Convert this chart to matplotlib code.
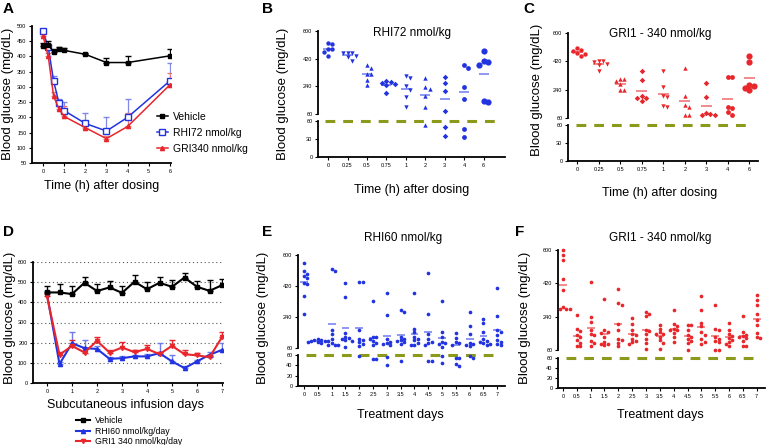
import numpy as np
import matplotlib
matplotlib.use("Agg")
import matplotlib.pyplot as plt
from matplotlib.lines import Line2D

plt.rcParams['font.family'] = ['Liberation Sans', 'DejaVu Sans']

W, H = 766, 445
BLUE = "#2233e0"
BLUE_MEAN = "#6f7cf0"
RED = "#e8262b"
RED_MEAN = "#ee6a6e"
OLIVE = "#8c9a1c"

# ── Panel A: time course after single dose ───────────────────────────────────
a_time = [0, 0.25, 0.5, 0.75, 1, 2, 3, 4, 6]
a_veh = [433, 438, 415, 425, 420, 407, 380, 380, 402]
a_veh_err = [12, 12, 8, 6, 8, 5, 15, 22, 22]
a_rhi = [482, 430, 320, 248, 222, 180, 155, 200, 320]
a_rhi_err = [8, 10, 15, 12, 30, 35, 45, 60, 60]
a_gri = [468, 400, 270, 228, 203, 166, 130, 170, 307]
a_gri_err = [10, 10, 12, 12, 35, 10, 8, 45, 40]

# ── Panels B / C: individual animals, single dose ────────────────────────────
bc_labels = ["0", "0.25", "0.5", "0.75", "1", "2", "3", "4", "6"]
b_vals = [
    [522, 518, 485, 480, 465, 436],
    [460, 460, 458, 440, 430, 405],
    [380, 360, 322, 318, 280, 246],
    [275, 270, 262, 255, 248, 198],
    [306, 293, 240, 215, 172, 107],
    [295, 233, 220, 180, 107, 54],
    [302, 259, 209, 79, 50, 35],
    [380, 358, 233, 155, 47, 34],
    [468, 405, 400, 382, 142, 140],
]
c_vals = [
    [505, 490, 483, 473, 466, 451],
    [424, 424, 413, 400, 398, 356],
    [307, 305, 292, 275, 240, 238],
    [356, 303, 200, 190, 185, 170],
    [356, 256, 200, 196, 137, 130],
    [377, 200, 143, 130, 79, 79],
    [281, 196, 90, 85, 80, 78],
    [320, 318, 132, 122, 100, 79],
    [451, 415, 271, 264, 249, 239],
]
bc_markers = ['o', 'v', '^', 'D', 'v', '^', 'D', 'o', 'o']

# ── Panel D: infusion, group means ───────────────────────────────────────────
d_days = [0, 0.5, 1, 1.5, 2, 2.5, 3, 3.5, 4, 4.5, 5, 5.5, 6, 6.5, 7]
d_veh = [449, 449, 441, 497, 456, 474, 447, 502, 465, 497, 477, 523, 477, 457, 485]
d_veh_err = [31, 44, 41, 29, 37, 33, 35, 33, 37, 29, 33, 23, 31, 53, 31]
d_rhi = [440, 94, 197, 173, 169, 120, 123, 132, 132, 148, 107, 74, 107, 140, 164]
d_rhi_err = [15, 8, 58, 42, 15, 10, 10, 8, 10, 52, 33, 8, 8, 16, 36]
d_gri = [430, 140, 184, 151, 209, 151, 176, 153, 169, 143, 184, 143, 137, 128, 227]
d_gri_err = [15, 16, 30, 22, 21, 13, 25, 11, 17, 13, 30, 21, 11, 8, 28]

# ── Panels E / F: infusion, individual animals ───────────────────────────────
ef_days = d_days
ef_labels = ["0", "0.5", "1", "1.5", "2", "2.5", "3", "3.5", "4", "4.5",
             "5", "5.5", "6", "6.5", "7"]
e_vals = [
    [551, 509, 491, 477, 468, 435, 431, 361, 256],
    [112, 108, 105, 102, 100, 98, 96, 92, 88],
    [516, 508, 167, 143, 114, 90, 80, 79, 78],
    [439, 357, 150, 124, 118, 114, 105, 100, 66],
    [444, 444, 163, 114, 105, 95, 85, 70, 58],
    [334, 124, 124, 115, 99, 90, 79, 53, 53],
    [377, 254, 110, 95, 88, 85, 76, 57, 40],
    [283, 270, 124, 115, 105, 100, 95, 85, 49],
    [380, 173, 153, 124, 110, 105, 90, 79, 76],
    [493, 256, 143, 110, 95, 91, 80, 49, 48],
    [334, 153, 124, 95, 90, 85, 66, 58, 44],
    [149, 118, 95, 90, 80, 55, 54, 42, 38],
    [270, 186, 143, 89, 85, 79, 70, 59, 55],
    [227, 206, 153, 110, 99, 95, 89, 85, 80],
    [411, 246, 163, 153, 134, 105, 95, 85, 76],
]
f_vals = [
    [600, 573, 546, 446, 383, 290, 284, 282, 280],
    [248, 176, 161, 140, 130, 112, 100, 80, 80],
    [425, 239, 212, 166, 148, 140, 107, 98, 82],
    [334, 166, 157, 154, 130, 103, 94, 90, 85],
    [392, 315, 305, 200, 170, 121, 112, 100, 80],
    [235, 203, 166, 148, 140, 121, 110, 103, 94],
    [266, 257, 244, 170, 160, 148, 120, 98, 65],
    [194, 176, 157, 148, 145, 130, 112, 100, 67],
    [278, 203, 188, 176, 170, 166, 150, 130, 103],
    [197, 197, 166, 140, 130, 121, 110, 98, 62],
    [351, 278, 208, 188, 157, 140, 120, 103, 94],
    [305, 176, 166, 130, 121, 110, 103, 62, 62],
    [208, 166, 148, 135, 125, 112, 103, 95, 82],
    [244, 157, 143, 136, 130, 125, 110, 82, 82],
    [356, 329, 305, 257, 221, 194, 150, 130, 125],
]

fig = plt.figure(figsize=(W / 100, H / 100), dpi=100)


def px_axes(l, t, r, b):
    return fig.add_axes([l / W, 1 - b / H, (r - l) / W, (b - t) / H])


def ftext(x, y, s, **kw):
    fig.text(x / W, 1 - y / H, s, **kw)


def style(ax, left=True, bottom=True):
    for s in ["top", "right"]:
        ax.spines[s].set_visible(False)
    ax.spines["left"].set_visible(left)
    ax.spines["bottom"].set_visible(bottom)
    ax.spines["left"].set_linewidth(1.3)
    ax.spines["bottom"].set_linewidth(1.3)
    ax.tick_params(labelsize=4, length=2.5, width=0.8, pad=1.5)


def swarm(ypx, sx, diam):
    # simple beeswarm: place points by value, step sideways on overlap
    order = np.argsort(ypx)[::-1]
    placed, xs = [], np.zeros(len(ypx))
    step = diam / sx
    for i in order:
        for k in range(30):
            off = ((k + 1) // 2) * step * (1 if k % 2 else -1)
            if all(np.hypot((off - ox) * sx, ypx[i] - oy) >= diam * 0.95
                   for ox, oy in placed):
                break
        xs[i] = off
        placed.append((off, ypx[i]))
    return xs


def broken_panel(box_up, box_lo, xlim, xpos, xlabels, groups, color,
                 mcolor, markers, sizes, lo_ticks, half, diam):
    l, t, r, b = box_up
    _, t2, _, b2 = box_lo
    ax_up = px_axes(l, t, r, b)
    ax_lo = px_axes(l, t2, r, b2)
    up_scale = (b - t) / 540
    lo_scale = (b2 - t2) / 60
    sx = (r - l) / (xlim[1] - xlim[0])
    for x, vals, mk, sz in zip(xpos, groups, markers, sizes):
        v = np.array(vals, float)
        ypx = np.where(v >= 60, (b2 - t2) + 8 + (v - 60) * up_scale, v * lo_scale)
        offs = swarm(ypx, sx, diam)
        hi = v >= 60
        ax_up.scatter(x + offs[hi], v[hi], s=sz, marker=mk, color=color,
                      linewidths=0, clip_on=False, zorder=3)
        ax_lo.scatter(x + offs[~hi], v[~hi], s=sz, marker=mk, color=color,
                      linewidths=0, clip_on=False, zorder=3)
        m = v.mean()
        target = ax_up if m >= 60 else ax_lo
        target.hlines(m, x - half, x + half, color=mcolor, lw=1.1, zorder=2)
    for ax in (ax_up, ax_lo):
        ax.set_xlim(*xlim)
    ax_up.set_ylim(60, 600)
    ax_lo.set_ylim(0, 60)
    ax_up.set_yticks([60, 240, 420, 600])
    ax_lo.set_yticks(lo_ticks)
    ax_up.set_xticks([])
    ax_lo.set_xticks(xpos)
    ax_lo.set_xticklabels(xlabels)
    style(ax_up, bottom=False)
    style(ax_lo)
    ax_lo.axhline(60, color=OLIVE, lw=2.2, ls=(0, (3.2, 2.6)), clip_on=False,
                  xmin=0.04, xmax=0.96, zorder=1)
    return ax_up, ax_lo


# ── A ────────────────────────────────────────────────────────────────────────
ax = px_axes(32, 26, 171, 163)
z = np.zeros(len(a_time))
ax.errorbar(a_time, a_veh, yerr=[z, a_veh_err], color="black", marker="s",
            ms=3.2, lw=1.1, elinewidth=0.9, capsize=2, zorder=3)
ax.errorbar(a_time, a_rhi, yerr=[z, a_rhi_err], color=BLUE, marker="s",
            mfc="white", mec=BLUE, ms=4, mew=1, lw=1.1, elinewidth=0.9,
            capsize=2, ecolor="#7f88ea", zorder=2)
ax.errorbar(a_time, a_gri, yerr=[z, a_gri_err], color=RED, marker="^",
            ms=3, lw=1.1, elinewidth=0.9, capsize=2, ecolor="#e87a7d",
            zorder=2)
ax.set_xlim(-0.52, 6.05)
ax.set_ylim(50, 500)
ax.set_xticks(range(7))
ax.set_yticks(range(50, 501, 50))
style(ax)
a_handles = [
    Line2D([], [], color="black", marker="s", ms=3.2, lw=1.1),
    Line2D([], [], color=BLUE, marker="s", mfc="white", mec=BLUE, ms=4, mew=1, lw=1.1),
    Line2D([], [], color=RED, marker="^", ms=3, lw=1.1),
]
ax.legend(a_handles, ["Vehicle", "RHI72 nmol/kg", "GRI340 nmol/kg"],
          loc="center left", bbox_to_anchor=(0.9, 0.22), frameon=False,
          fontsize=7.5, handlelength=1.0, handletextpad=0.5, labelspacing=0.55,
          borderpad=0, borderaxespad=0)
ax.set_xlabel("Time (h) after dosing", fontsize=9, labelpad=5)
ftext(8, 94, "Blood glucose (mg/dL)", rotation=90, fontsize=9.5,
      ha="center", va="center")

# ── B / C ────────────────────────────────────────────────────────────────────
bc_x = np.arange(len(bc_labels))
bc_sizes = [10, 10, 10, 8, 10, 10, 8, 12, 20]
up, lo = broken_panel((318, 31, 505, 114), (318, 121, 505, 157), (-0.52, 9.1),
                      bc_x, bc_labels, b_vals, BLUE, BLUE_MEAN, bc_markers,
                      bc_sizes, [0, 30, 60], 0.26, 4.2)
ftext(412, 33, "RHI72 nmol/kg", fontsize=8.5, ha="center", va="center")
ftext(412, 190, "Time (h) after dosing", fontsize=9, ha="center", va="center")
ftext(283, 94, "Blood glucose (mg/dL)", rotation=90, fontsize=9.5,
      ha="center", va="center")

up, lo = broken_panel((568, 33, 758, 118), (568, 125, 758, 161), (-0.42, 8.4),
                      bc_x, bc_labels, c_vals, RED, RED_MEAN, bc_markers,
                      bc_sizes, [0, 30, 60], 0.26, 4.2)
ftext(660, 34, "GRI1 - 340 nmol/kg", fontsize=8.5, ha="center", va="center")
ftext(660, 193, "Time (h) after dosing", fontsize=9, ha="center", va="center")
ftext(537, 90, "Blood glucose (mg/dL)", rotation=90, fontsize=9.5,
      ha="center", va="center")

# ── D ────────────────────────────────────────────────────────────────────────
ax = px_axes(33, 262, 223, 383)
z = np.zeros(len(d_days))
for yv in range(100, 601, 100):
    ax.axhline(yv, color="#555555", lw=0.8, ls=(0, (1, 2.5)), zorder=0)
ax.errorbar(d_days, d_veh, yerr=[z, d_veh_err], color="black", marker="s",
            ms=3, lw=1.5, elinewidth=1, capsize=2, zorder=3)
ax.errorbar(d_days, d_rhi, yerr=[z, d_rhi_err], color=BLUE, marker="^",
            ms=3, lw=1.5, elinewidth=1, capsize=2, ecolor="#6f7cf0", zorder=2)
ax.errorbar(d_days, d_gri, yerr=[z, d_gri_err], color=RED, marker="v",
            ms=3, lw=1.5, elinewidth=1, capsize=2, zorder=2)
ax.set_xlim(-0.56, 7.04)
ax.set_ylim(0, 600)
ax.set_xticks(range(8))
ax.set_yticks(range(0, 601, 100))
style(ax)
ftext(125, 405, "Subcutaneous infusion days", fontsize=9, ha="center",
      va="center")
ftext(10, 318, "Blood glucose (mg/dL)", rotation=90, fontsize=9.5,
      ha="center", va="center")
d_handles = [
    Line2D([], [], color="black", marker="s", ms=3, lw=1.5),
    Line2D([], [], color=BLUE, marker="^", ms=3, lw=1.5),
    Line2D([], [], color=RED, marker="v", ms=3, lw=1.5),
]
fig.legend(d_handles, ["Vehicle", "RHI60 nmol/kg/day", "GRI1 340 nmol/kg/day"],
           loc="upper left", bbox_to_anchor=(76 / W, 1 - 416 / H),
           frameon=False, fontsize=6.3, handlelength=1.6, handletextpad=0.6,
           labelspacing=0.2, borderpad=0, borderaxespad=0)

# ── E / F ────────────────────────────────────────────────────────────────────
ef_sizes = [7] * len(ef_days)
ef_markers = ['o'] * len(ef_days)
up, lo = broken_panel((298, 255, 505, 348), (298, 355, 505, 386), (-0.22, 7.28),
                      ef_days, ef_labels, e_vals, BLUE, BLUE_MEAN, ef_markers,
                      ef_sizes, [0, 20, 40, 60], 0.14, 3.4)
ftext(403, 238, "RHI60 nmol/kg", fontsize=8.5, ha="center", va="center")
ftext(400, 415, "Treatment days", fontsize=9, ha="center", va="center")
ftext(263, 318, "Blood glucose (mg/dL)", rotation=90, fontsize=9.5,
      ha="center", va="center")

up, lo = broken_panel((558, 250, 765, 350), (558, 358, 765, 388), (-0.18, 7.3),
                      ef_days, ef_labels, f_vals, RED, RED_MEAN, ef_markers,
                      ef_sizes, [0, 20, 40, 60], 0.14, 3.4)
ftext(660, 238, "GRI1 - 340 nmol/kg", fontsize=8.5, ha="center", va="center")
ftext(660, 415, "Treatment days", fontsize=9, ha="center", va="center")
ftext(525, 318, "Blood glucose (mg/dL)", rotation=90, fontsize=9.5,
      ha="center", va="center")

# ── panel letters ────────────────────────────────────────────────────────────
for x, y, s in [(3, 9, "A"), (262, 9, "B"), (523, 9, "C"),
                (3, 232, "D"), (262, 232, "E"), (515, 232, "F")]:
    ftext(x, y, s, fontsize=11, fontweight="bold", ha="left", va="center")

fig.savefig("out.png", dpi=100)
